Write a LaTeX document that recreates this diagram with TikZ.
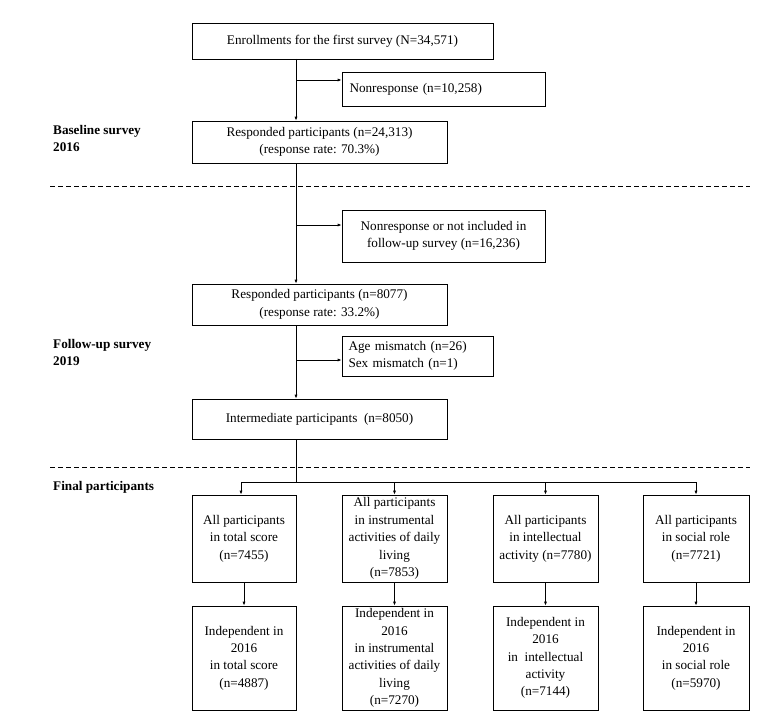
\documentclass[tikz,border=0pt]{standalone}
\usepackage{fontspec}
\setmainfont{Liberation Serif}
\usetikzlibrary{arrows.meta}
\begin{document}
\begin{tikzpicture}[x=1pt,y=1pt,
  box/.style={draw, line width=0.6pt, rectangle, inner sep=0pt, align=center, font=\fontsize{13.2}{17.4}\selectfont},
  lab/.style={anchor=north west, align=left, inner sep=0pt, font=\fontsize{13.2}{17.4}\selectfont\bfseries},
  arr/.style={-{Latex[length=4pt,width=3pt]}, line width=0.8pt},
  ln/.style={line width=0.8pt},
  dsh/.style={dashed, dash pattern=on 5pt off 3pt, line width=0.8pt}]
\useasboundingbox (0,0) rectangle (766,-717);
% top section
\node[box, minimum width=301, minimum height=36] (top) at (342.5,-41) {Enrollments for the first survey (N=34,571)};
\node[box, minimum width=203, minimum height=34, align=left, text width=188] (nr1) at (443.5,-89) {Nonresponse (n=10,258)};
\node[box, minimum width=255, minimum height=42] (r1) at (319.5,-142) {Responded participants (n=24,313)\\(response rate: 70.3\%)};
\node[lab] (l1) at (53,-125) {Baseline survey\\2016};
\node[box, minimum width=203, minimum height=52] (nr2) at (443.5,-236) {Nonresponse or not included in\\follow-up survey (n=16,236)};
\node[box, minimum width=255, minimum height=41] (r2) at (319.5,-304.5) {Responded participants (n=8077)\\(response rate: 33.2\%)};
\node[box, minimum width=151, minimum height=40, align=left, text width=138] (mm) at (417.5,-356) {Age mismatch (n=26)\\Sex mismatch (n=1)};
\node[lab] (l2) at (53,-339) {Follow-up survey\\2019};
\node[lab] (l3) at (53,-481) {Final participants};
\node[box, minimum width=255, minimum height=40] (im) at (319.5,-419) {Intermediate participants\ \ (n=8050)};
% row 1
\node[box, minimum width=104, minimum height=87] (a1) at (244,-538.5) {All participants\\in total score\\(n=7455)};
\node[box, minimum width=105, minimum height=87] (a2) at (394.5,-538.5) {All participants\\in instrumental\\activities of daily\\living\\(n=7853)};
\node[box, minimum width=105, minimum height=87] (a3) at (545.5,-538.5) {All participants\\in intellectual\\activity (n=7780)};
\node[box, minimum width=106, minimum height=87] (a4) at (696,-538.5) {All participants\\in social role\\(n=7721)};
% row 2
\node[box, minimum width=104, minimum height=104] (b1) at (244,-658) {Independent in\\2016\\in total score\\(n=4887)};
\node[box, minimum width=105, minimum height=104] (b2) at (394.5,-658) {Independent in\\2016\\in instrumental\\activities of daily\\living\\(n=7270)};
\node[box, minimum width=105, minimum height=104] (b3) at (545.5,-658) {Independent in\\2016\\in\ \ intellectual\\activity\\(n=7144)};
\node[box, minimum width=106, minimum height=104] (b4) at (696,-658) {Independent in\\2016\\in social role\\(n=5970)};
% dashed separators
\coordinate (d1a) at (50,-186); \coordinate (d1b) at (750,-186);
\coordinate (d2a) at (50,-467); \coordinate (d2b) at (750,-467);
\draw[dsh] (d1a) -- (d1b);
\draw[dsh] (d2a) -- (d2b);
% trunk
\coordinate (t0) at (296,-59);
\coordinate (t1) at (296,-80);
\coordinate (t2) at (296,-163);
\coordinate (t3) at (296,-225);
\coordinate (t4) at (296,-325);
\coordinate (t5) at (296,-360);
\coordinate (t6) at (296,-439);
\coordinate (t7) at (296,-482);
\draw[arr] (t0) -- (t0 |- r1.north);
\draw[arr] (t1) -- (t1 -| nr1.west);
\draw[arr] (t2) -- (t2 |- r2.north);
\draw[arr] (t3) -- (t3 -| nr2.west);
\draw[arr] (t4) -- (t4 |- im.north);
\draw[arr] (t5) -- (t5 -| mm.west);
\draw[ln] (t6) -- (t7);
\coordinate (h1) at (241,-482);
\coordinate (h4) at (696,-482);
\draw[ln] (h1) -- (h4);
\draw[arr] (h1) -- (h1 |- a1.north);
\draw[arr] (a2.north |- h1) -- (a2.north);
\draw[arr] (a3.north |- h1) -- (a3.north);
\draw[arr] (h4) -- (a4.north);
\draw[arr] (a1.south) -- (b1.north);
\draw[arr] (a2.south) -- (b2.north);
\draw[arr] (a3.south) -- (b3.north);
\draw[arr] (a4.south) -- (b4.north);
\end{tikzpicture}
\end{document}
